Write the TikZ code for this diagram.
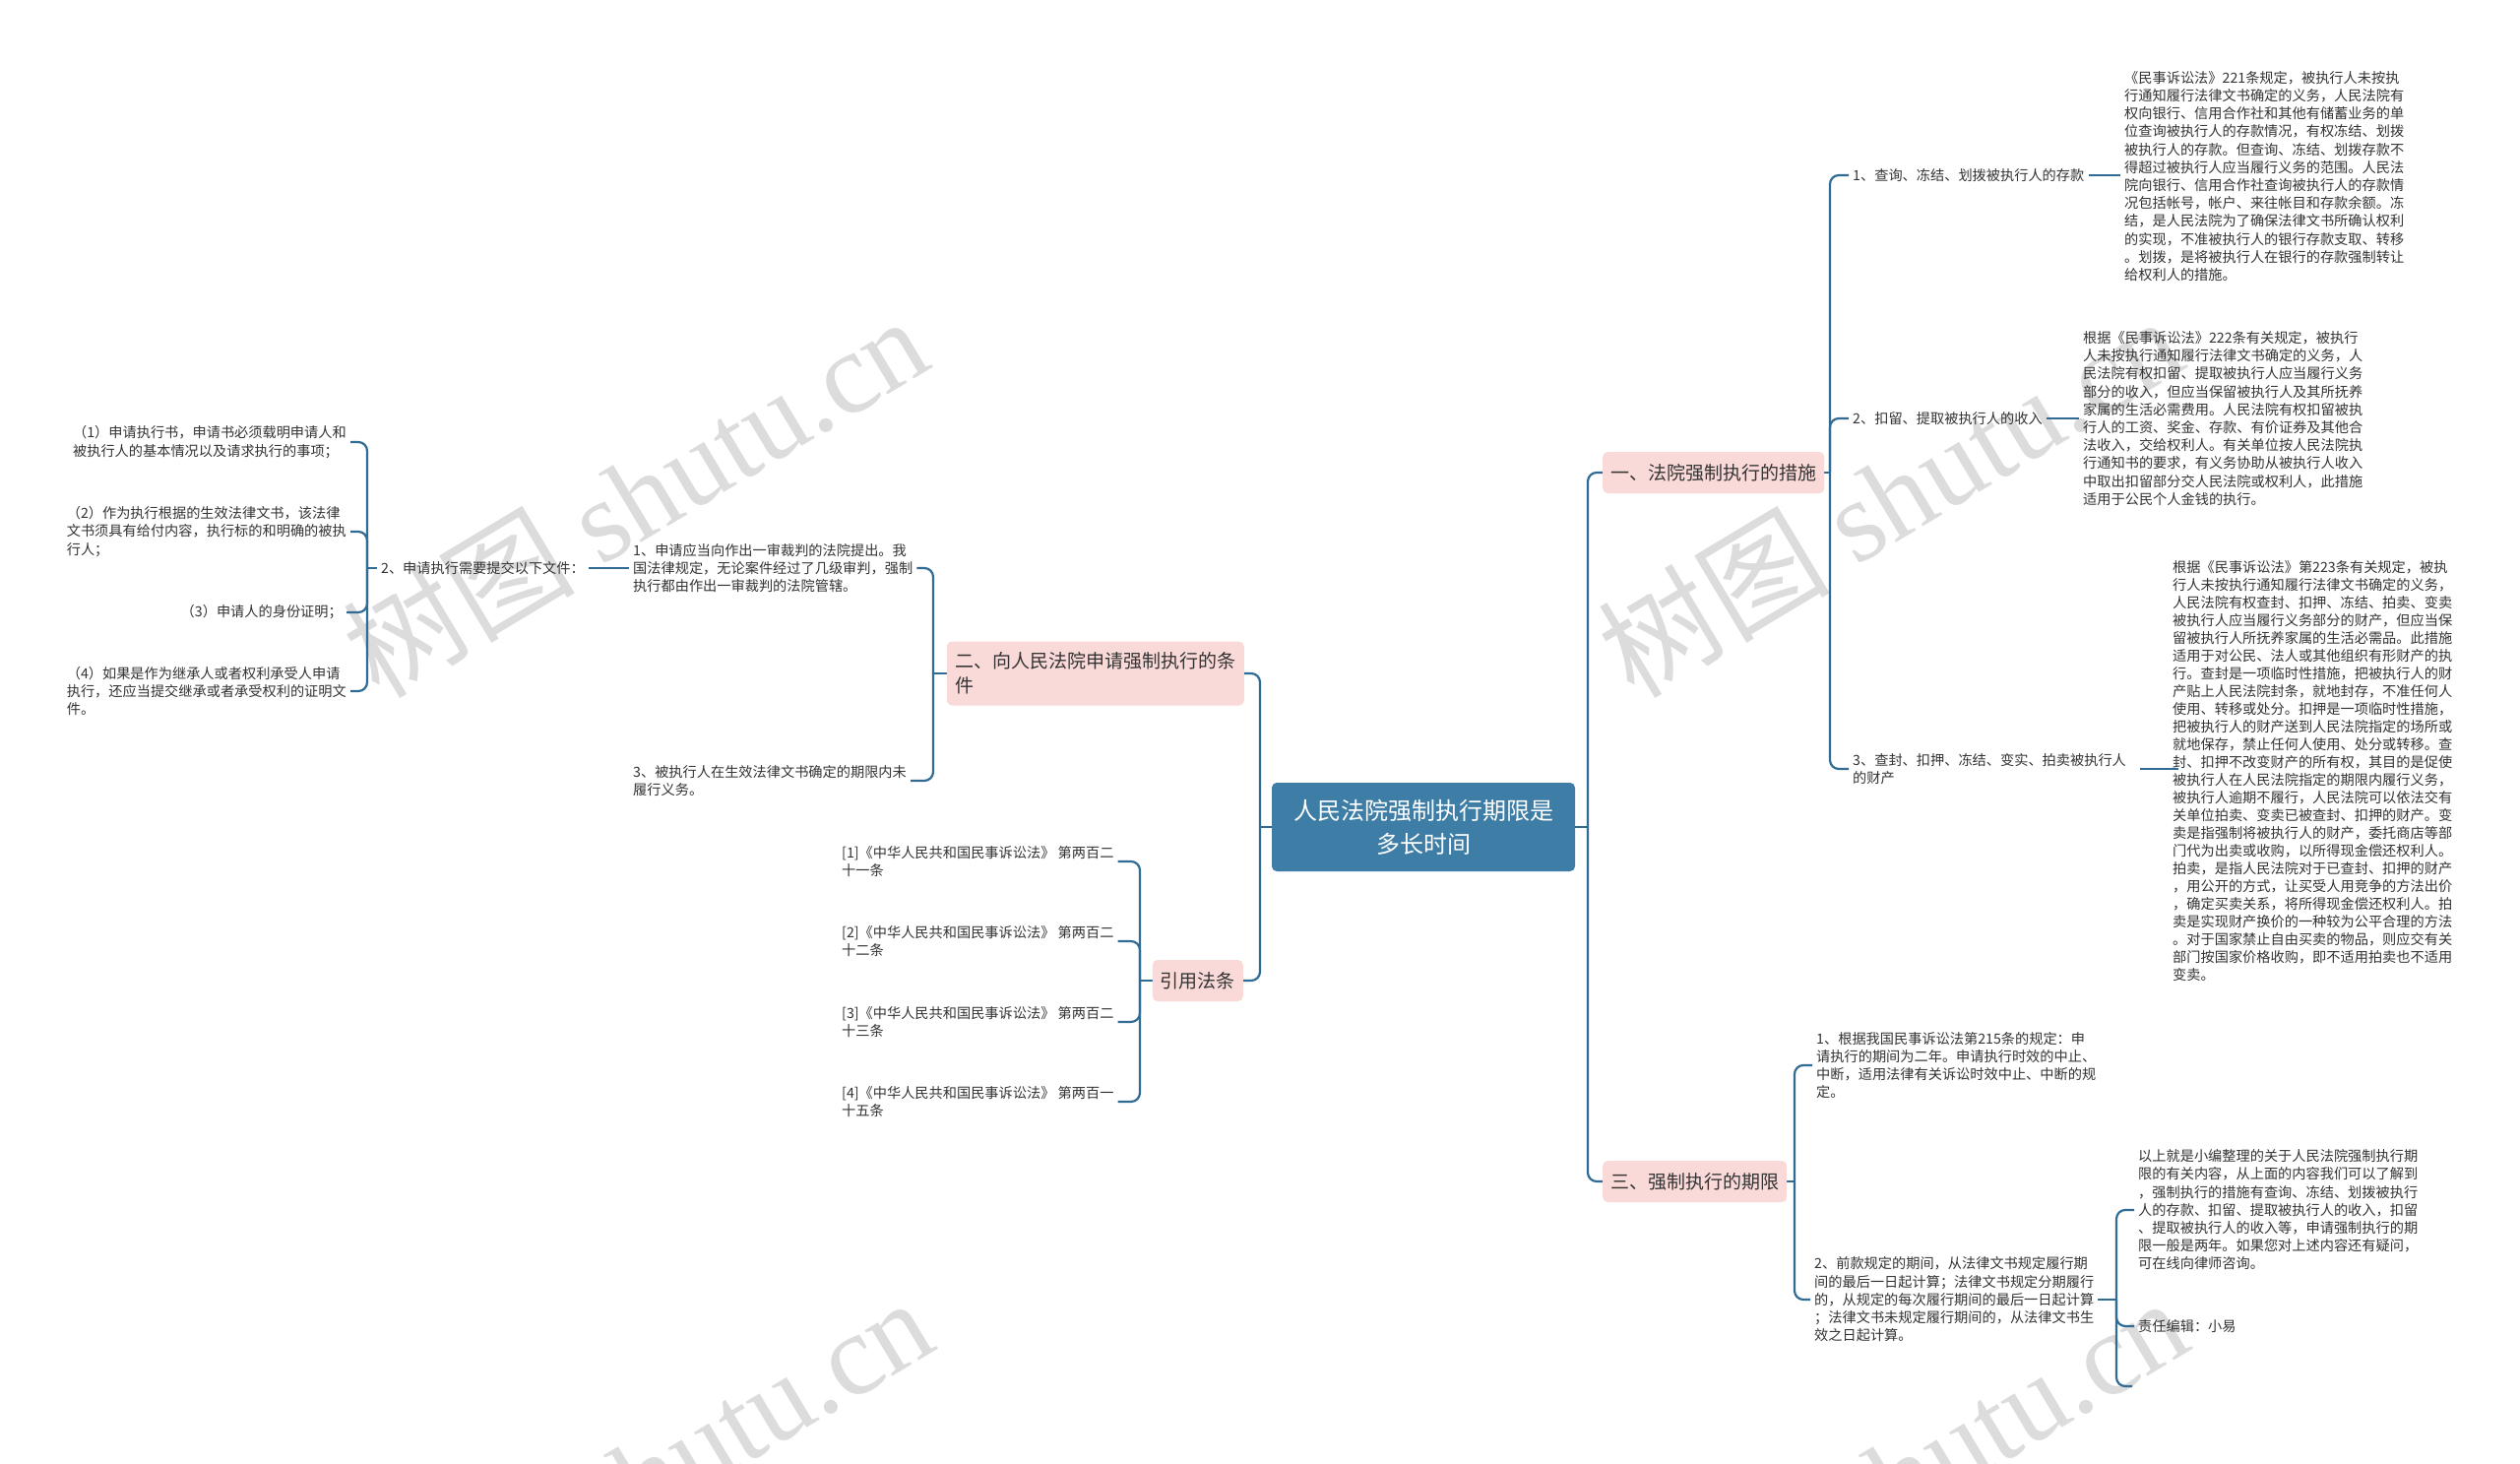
\documentclass[tikz,border=0pt]{standalone}
\usepackage{fontspec}
\setmainfont{Noto Sans CJK SC}
\newfontfamily\wmfont{Liberation Serif}
\definecolor{linec}{HTML}{2F6B93}
\definecolor{rootc}{HTML}{3E7EA6}
\definecolor{pinkc}{HTML}{FADAD8}
\definecolor{txtc}{HTML}{333333}
\definecolor{wmc}{HTML}{DCDCDC}
\pgfdeclarelayer{bgzero}
\pgfdeclarelayer{lines}
\pgfsetlayers{bgzero,lines,main}
\tikzset{
  conn/.style={draw=linec, line width=2.2pt, rounded corners=9pt},
  rootbox/.style={fill=rootc, text=white, rounded corners=5pt, minimum width=308pt, minimum height=90pt, align=center, inner sep=0pt, font=\fontsize{24}{34}\selectfont},
  lvone/.style={fill=pinkc, text=txtc, rounded corners=5pt, minimum height=42pt, align=left, inner xsep=8pt, inner ysep=8pt, font=\fontsize{19}{25}\selectfont},
  leaf/.style={text=txtc, align=left, inner xsep=4pt, inner ysep=2pt, font=\fontsize{14.2}{18.2}\selectfont},
  wm/.style={text=wmc, rotate=31, inner sep=0pt, font=\fontsize{118}{128}\selectfont},
}
\begin{document}
\begin{tikzpicture}[x=1pt,y=-1pt]
\useasboundingbox (0,0) rectangle (2560,1487);
\begin{pgfonlayer}{bgzero}
\fill[white] (0,0) rectangle (2560,1487);
\node[wm] (wm1) at (645,503) {树图 {\wmfont shutu.cn}};
\node[wm] (wm2) at (1920,503) {树图 {\wmfont shutu.cn}};
\node[wm] (wm3) at (650,1500) {树图 {\wmfont shutu.cn}};
\node[wm] (wm4) at (1925,1500) {树图 {\wmfont shutu.cn}};
\end{pgfonlayer}

% root and level one
\node[rootbox] (root) at (1446,840) {人民法院强制执行期限是\\多长时间};
\node[lvone, anchor=west] (n1) at (1628,480) {一、法院强制执行的措施};
\node[lvone, anchor=west] (n3) at (1628,1200) {三、强制执行的期限};
\node[lvone, anchor=east, minimum width=302pt, minimum height=65pt] (n2) at (1264,684) {二、向人民法院申请强制执行的条\\件};
\node[lvone, anchor=east] (n4) at (1263,996) {引用法条};

% branch one
\node[leaf, anchor=west] (a1) at (1878,178) {1、查询、冻结、划拨被执行人的存款};
\node[leaf, anchor=west] (a2) at (1878,425) {2、扣留、提取被执行人的收入};
\node[leaf, anchor=west] (a3) at (1878,781) {3、查封、扣押、冻结、变实、拍卖被执行人\\的财产};
\node[leaf, anchor=west] (d1) at (2154,179) {《民事诉讼法》221条规定，被执行人未按执\\行通知履行法律文书确定的义务，人民法院有\\权向银行、信用合作社和其他有储蓄业务的单\\位查询被执行人的存款情况，有权冻结、划拨\\被执行人的存款。但查询、冻结、划拨存款不\\得超过被执行人应当履行义务的范围。人民法\\院向银行、信用合作社查询被执行人的存款情\\况包括帐号，帐户、来往帐目和存款余额。冻\\结，是人民法院为了确保法律文书所确认权利\\的实现，不准被执行人的银行存款支取、转移\\。划拨，是将被执行人在银行的存款强制转让\\给权利人的措施。};
\node[leaf, anchor=west] (d2) at (2112,425) {根据《民事诉讼法》222条有关规定，被执行\\人未按执行通知履行法律文书确定的义务，人\\民法院有权扣留、提取被执行人应当履行义务\\部分的收入，但应当保留被执行人及其所抚养\\家属的生活必需费用。人民法院有权扣留被执\\行人的工资、奖金、存款、有价证券及其他合\\法收入，交给权利人。有关单位按人民法院执\\行通知书的要求，有义务协助从被执行人收入\\中取出扣留部分交人民法院或权利人，此措施\\适用于公民个人金钱的执行。};
\node[leaf, anchor=west, font=\fontsize{14.2}{18}\selectfont] (d3) at (2203,783) {根据《民事诉讼法》第223条有关规定，被执\\行人未按执行通知履行法律文书确定的义务，\\人民法院有权查封、扣押、冻结、拍卖、变卖\\被执行人应当履行义务部分的财产，但应当保\\留被执行人所抚养家属的生活必需品。此措施\\适用于对公民、法人或其他组织有形财产的执\\行。查封是一项临时性措施，把被执行人的财\\产贴上人民法院封条，就地封存，不准任何人\\使用、转移或处分。扣押是一项临时性措施，\\把被执行人的财产送到人民法院指定的场所或\\就地保存，禁止任何人使用、处分或转移。查\\封、扣押不改变财产的所有权，其目的是促使\\被执行人在人民法院指定的期限内履行义务，\\被执行人逾期不履行，人民法院可以依法交有\\关单位拍卖、变卖已被查封、扣押的财产。变\\卖是指强制将被执行人的财产，委托商店等部\\门代为出卖或收购，以所得现金偿还权利人。\\拍卖，是指人民法院对于已查封、扣押的财产\\，用公开的方式，让买受人用竞争的方法出价\\，确定买卖关系，将所得现金偿还权利人。拍\\卖是实现财产换价的一种较为公平合理的方法\\。对于国家禁止自由买卖的物品，则应交有关\\部门按国家价格收购，即不适用拍卖也不适用\\变卖。};

% branch three
\node[leaf, anchor=west] (c1) at (1841,1082) {1、根据我国民事诉讼法第215条的规定：申\\请执行的期间为二年。申请执行时效的中止、\\中断，适用法律有关诉讼时效中止、中断的规\\定。};
\node[leaf, anchor=west] (c2) at (1839,1320) {2、前款规定的期间，从法律文书规定履行期\\间的最后一日起计算；法律文书规定分期履行\\的，从规定的每次履行期间的最后一日起计算\\；法律文书未规定履行期间的，从法律文书生\\效之日起计算。};
\node[leaf, anchor=west] (e1) at (2168,1229) {以上就是小编整理的关于人民法院强制执行期\\限的有关内容，从上面的内容我们可以了解到\\，强制执行的措施有查询、冻结、划拨被执行\\人的存款、扣留、提取被执行人的收入，扣留\\、提取被执行人的收入等，申请强制执行的期\\限一般是两年。如果您对上述内容还有疑问，\\可在线向律师咨询。};
\node[leaf, anchor=west] (e2) at (2168,1347) {责任编辑：小易};
\coordinate (e3) at (2166,1408);

% branch two
\node[leaf, anchor=west] (f1) at (639,577) {1、申请应当向作出一审裁判的法院提出。我\\国法律规定，无论案件经过了几级审判，强制\\执行都由作出一审裁判的法院管辖。};
\node[leaf, anchor=east] (f2) at (598,577) {2、申请执行需要提交以下文件：};
\node[leaf, anchor=west] (f3) at (639,793) {3、被执行人在生效法律文书确定的期限内未\\履行义务。};
\node[leaf, anchor=east] (g1) at (356,449) {（1）申请执行书，申请书必须载明申请人和\\被执行人的基本情况以及请求执行的事项；};
\node[leaf, anchor=east] (g2) at (356,540) {（2）作为执行根据的生效法律文书，该法律\\文书须具有给付内容，执行标的和明确的被执\\行人；};
\node[leaf, anchor=east] (g3) at (352,622) {（3）申请人的身份证明；};
\node[leaf, anchor=east] (g4) at (356,702) {（4）如果是作为继承人或者权利承受人申请\\执行，还应当提交继承或者承受权利的证明文\\件。};

% branch four
\node[leaf, anchor=west] (h1) at (851,875) {[1]《中华人民共和国民事诉讼法》 第两百二\\十一条};
\node[leaf, anchor=west] (h2) at (851,956) {[2]《中华人民共和国民事诉讼法》 第两百二\\十二条};
\node[leaf, anchor=west] (h3) at (851,1038) {[3]《中华人民共和国民事诉讼法》 第两百二\\十三条};
\node[leaf, anchor=west] (h4) at (851,1119) {[4]《中华人民共和国民事诉讼法》 第两百一\\十五条};

% junction coordinates
\coordinate (rtR) at (1613,840);
\coordinate (rtL) at (1280,840);
\coordinate (b1) at (1859,480);
\coordinate (b3) at (1823,1200);
\coordinate (bc2) at (2150,1320);
\coordinate (b2) at (948,684);
\coordinate (bf2) at (373,577);
\coordinate (b4) at (1158,996);

\begin{pgfonlayer}{lines}
\draw[conn] (root.east) -- (rtR);
\draw[conn] (rtR) |- (n1.west);
\draw[conn] (rtR) |- (n3.west);
\draw[conn] (root.west) -- (rtL);
\draw[conn] (rtL) |- (n2.east);
\draw[conn] (rtL) |- (n4.east);

\draw[conn] (n1.east) -- (b1);
\foreach \c in {a1,a2,a3} \draw[conn] (b1) |- (\c.west);
\draw[conn] (a1.east) -- (a1.east -| d1.west);
\draw[conn] (a2.east) -- (a2.east -| d2.west);
\draw[conn] ([xshift=10pt]a3.east) -- ([xshift=10pt]a3.east -| d3.west);

\draw[conn] (n3.east) -- (b3);
\foreach \c in {c1,c2} \draw[conn] (b3) |- (\c.west);
\draw[conn] (c2.east) -- (bc2);
\foreach \c in {e1,e2} \draw[conn] (bc2) |- (\c.west);
\draw[conn] (bc2) |- (e3);

\draw[conn] (n2.west) -- (b2);
\draw[conn] (b2) |- (f1.east);
\draw[conn] (b2) |- (f3.east);
\draw[conn] (f2.east) -- (f2.east -| f1.west);
\draw[conn] (f2.west) -- (bf2);
\foreach \c in {g1,g2,g3,g4} \draw[conn] (bf2) |- (\c.east);

\draw[conn] (n4.west) -- (b4);
\foreach \c in {h1,h2,h3,h4} \draw[conn] (b4) |- (\c.east);
\end{pgfonlayer}
\end{tikzpicture}
\end{document}
